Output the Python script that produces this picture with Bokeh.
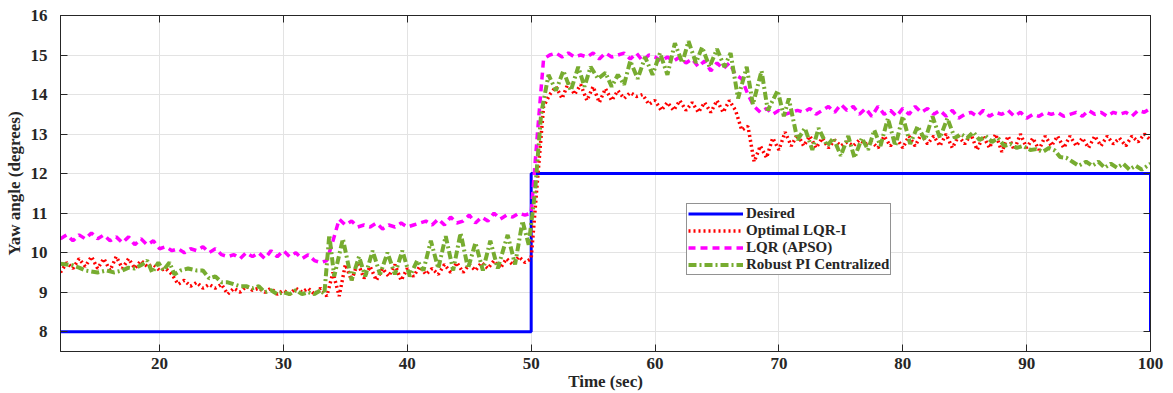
from bokeh.plotting import figure
from bokeh.models import (Legend, LegendItem, LinearAxis, SingleIntervalTicker,
                          Range1d)
from bokeh.embed import file_html
from bokeh.resources import INLINE

# ---------------- data ----------------
desired_t = [12, 50, 50, 100, 100]
desired_y = [8, 8, 12, 12, 8]

step_t0 = 12.0
step_dt = 0.5

optimal_lqr_i = [
    9.5, 9.75, 9.6, 9.85, 9.65, 9.9, 9.6, 9.85, 9.55, 9.9, 9.6, 9.85, 9.6, 9.8, 9.65, 9.7, 9.55, 9.6, 9.45, 9.2,
    9.3, 9.15, 9.25, 9.1, 9.2, 9.1, 9.2, 8.95, 9.1, 9.0, 9.15, 9.05, 9.1, 9.0, 9.1, 8.95, 9.05, 8.95, 9.1, 9.0,
    9.1, 8.95, 9.1, 8.9, 9.5, 8.9, 9.7, 9.3, 9.75, 9.35, 9.65, 9.3, 9.6, 9.4, 9.7, 9.3, 9.6, 9.4, 9.65, 9.45,
    9.6, 9.45, 9.7, 9.5, 9.75, 9.5, 9.7, 9.55, 9.75, 9.6, 9.8, 9.6, 9.85, 9.7, 9.9, 9.75, 9.85, 11.8, 13.7, 14.0,
    14.2, 13.9, 14.3, 14.0, 14.25, 13.85, 14.2, 13.8, 14.15, 13.85, 14.1, 13.9, 14.05, 13.95, 14.0, 13.75, 13.85, 13.6, 13.8, 13.6,
    13.85, 13.6, 13.8, 13.55, 13.8, 13.55, 13.85, 13.55, 13.85, 13.6, 13.1, 13.2, 12.3, 12.7, 12.4, 12.9, 12.6, 13.05, 12.7, 13.0,
    12.7, 12.95, 12.65, 12.9, 12.65, 12.85, 12.7, 12.8, 12.7, 12.85, 12.75, 12.8, 12.65, 12.95, 12.7, 12.9, 12.65, 12.95, 12.7, 13.0,
    12.75, 12.95, 12.7, 13.0, 12.65, 12.95, 12.75, 13.0, 12.6, 12.95, 12.65, 13.0, 12.55, 12.95, 12.6, 13.0, 12.65, 12.9, 12.6, 12.95,
    12.7, 12.95, 12.65, 12.95, 12.7, 12.9, 12.65, 12.95, 12.7, 12.95, 12.75, 12.9, 12.7, 12.95, 12.8, 13.0, 12.85,
]

lqr_apso = [
    10.35, 10.45, 10.3, 10.45, 10.35, 10.5, 10.35, 10.45, 10.3, 10.4, 10.25, 10.4, 10.2, 10.35, 10.2, 10.3, 10.1, 10.15, 10.05, 10.1,
    10.0, 10.1, 10.05, 10.15, 10.0, 10.1, 9.95, 9.9, 9.95, 9.85, 10.0, 9.9, 10.0, 9.85, 10.05, 9.9, 10.05, 9.9, 10.0, 9.85,
    9.95, 9.8, 9.75, 9.8, 10.3, 10.85, 10.7, 10.8, 10.65, 10.7, 10.65, 10.75, 10.6, 10.7, 10.65, 10.75, 10.65, 10.7, 10.75, 10.8,
    10.7, 10.85, 10.7, 10.9, 10.75, 10.8, 10.95, 10.75, 10.9, 10.8, 11.0, 10.85, 10.95, 10.9, 11.0, 10.95, 11.0, 13.0, 14.9, 15.0,
    15.05, 14.95, 15.05, 14.95, 15.0, 14.95, 15.05, 14.9, 15.05, 14.95, 15.0, 15.05, 14.9, 15.05, 14.85, 15.0, 14.95, 14.85, 14.95, 14.85,
    14.95, 14.8, 14.9, 14.7, 14.85, 14.6, 14.8, 14.65, 14.8, 14.5, 14.4, 14.0, 13.7, 13.55, 13.65, 13.5, 13.6, 13.5, 13.55, 13.6,
    13.55, 13.65, 13.5, 13.6, 13.7, 13.55, 13.75, 13.6, 13.7, 13.5, 13.65, 13.45, 13.7, 13.5, 13.6, 13.45, 13.65, 13.5, 13.7, 13.55,
    13.65, 13.5, 13.6, 13.45, 13.6, 13.4, 13.5, 13.55, 13.45, 13.6, 13.45, 13.55, 13.5, 13.6, 13.45, 13.55, 13.4, 13.5, 13.45, 13.55,
    13.5, 13.55, 13.45, 13.5, 13.55, 13.45, 13.6, 13.5, 13.55, 13.45, 13.55, 13.5, 13.55, 13.45, 13.6, 13.55, 13.65,
]

robust_pi_t = [
    12, 13, 13.5, 14, 15, 15.7, 16.3, 17, 17.5, 18, 18.6, 19, 19.4, 19.9, 20.3, 20.8, 21.2, 21.7, 22.3, 23,
    23.5, 24, 24.5, 25, 25.5, 26, 26.5, 27, 27.5, 28, 28.5, 29, 29.5, 30, 30.5, 31, 31.5, 32, 32.5, 33,
    33.3, 33.7, 34.1, 34.8, 35.5, 36.1, 36.6, 37.2, 37.8, 38.4, 39.0, 39.6, 40.2, 40.8, 41.3, 41.9, 42.5, 43.1, 43.7, 44.3,
    44.9, 45.5, 46.1, 46.7, 47.3, 48.1, 48.7, 49.3, 49.8, 50.3, 50.8, 51.4, 52.0, 52.6, 53.2, 53.8, 54.3, 54.8, 55.4, 56.0,
    56.5, 57.0, 57.5, 58.0, 58.6, 59.2, 59.8, 60.4, 61.0, 61.6, 62.2, 62.7, 63.3, 63.8, 64.4, 65.0, 65.6, 66.1, 66.7, 67.4,
    67.9, 68.6, 69.1, 69.9, 70.4, 70.8, 71.5, 72.1, 72.7, 73.2, 73.9, 74.4, 75.0, 75.6, 76.1, 76.7, 77.2, 77.7, 78.2, 78.8,
    79.4, 80.0, 80.6, 81.2, 81.8, 82.4, 83.0, 83.6, 84.2, 84.7, 85.2, 85.7, 86.2, 86.7, 87.2, 87.7, 88.2, 88.7, 89.2, 89.7,
    90.3, 90.8, 91.3, 91.8, 92.3, 92.7, 93.2, 93.7, 94.2, 94.8, 95.3, 95.8, 96.3, 96.8, 97.3, 97.8, 98.3, 98.8, 99.3, 100,
]
robust_pi_y = [
    9.72, 9.68, 9.62, 9.55, 9.5, 9.55, 9.5, 9.55, 9.62, 9.6, 9.7, 9.8, 9.5, 9.75, 9.55, 9.75, 9.45, 9.55, 9.6, 9.55,
    9.55, 9.35, 9.4, 9.25, 9.25, 9.2, 9.15, 9.15, 9.1, 9.15, 9.0, 9.05, 8.95, 9.0, 8.95, 9.05, 8.95, 9.0, 8.95, 9.05,
    8.95, 10.45, 9.4, 10.35, 9.3, 9.9, 9.4, 10.05, 9.45, 10.0, 9.45, 10.05, 9.4, 9.8, 9.55, 10.3, 9.6, 10.42, 9.55, 10.5,
    9.6, 10.25, 9.55, 10.3, 9.6, 10.45, 9.7, 10.8, 10.2, 11.5, 13.5, 14.5, 14.1, 14.6, 14.1, 14.7, 14.2, 14.7, 14.4, 14.55,
    14.2, 14.5, 14.25, 14.85, 14.4, 14.95, 14.5, 15.05, 14.5, 15.3, 14.8, 15.35, 14.8, 15.2, 14.7, 15.15, 14.7, 15.05, 13.9, 14.7,
    13.75, 14.6, 13.6, 14.1, 13.45, 13.9, 12.85, 13.15, 12.6, 13.15, 12.7, 12.9, 12.45, 12.95, 12.4, 12.9, 12.6, 13.1, 12.7, 13.4,
    12.7, 13.45, 12.75, 13.2, 12.85, 13.45, 12.9, 13.4, 12.9, 13.0, 12.9, 13.05, 12.85, 12.95, 12.8, 12.9, 12.7, 12.75, 12.65, 12.7,
    12.6, 12.62, 12.55, 12.65, 12.58, 12.42, 12.4, 12.3, 12.2, 12.3, 12.2, 12.3, 12.15, 12.25, 12.15, 12.25, 12.1, 12.2, 12.1, 12.25,
]

x_ticks_interval = 10
y_ticks_interval = 1

step_t = [step_t0 + i * step_dt for i in range(len(optimal_lqr_i))]
assert len(optimal_lqr_i) == len(lqr_apso) == 177
assert len(robust_pi_t) == len(robust_pi_y)

# ---------------- figure ----------------
FONT = "Liberation Serif"
AX = "#262626"

p = figure(width=1173, height=393, output_backend="svg", toolbar_location=None,
           x_range=Range1d(12, 100), y_range=Range1d(7.5, 16),
           min_border_left=60, min_border_right=23, min_border_top=15, min_border_bottom=42)
p.background_fill_color = "white"
p.border_fill_color = "white"
p.outline_line_color = AX
p.outline_line_width = 1

r_des = p.line(desired_t, desired_y, line_color="#0000ff", line_width=3)
r_opt = p.line(step_t, optimal_lqr_i, line_color="#ff0000", line_width=3.5, line_dash="2 3")
r_apso = p.line(step_t, lqr_apso, line_color="#ff00ff", line_width=3.5, line_dash="7 5")
r_pi = p.line(robust_pi_t, robust_pi_y, line_color="#77ac30", line_width=4, line_dash="8 3 2 3")

for ax in (p.xaxis[0], p.yaxis[0]):
    ax.axis_line_color = AX
    ax.major_tick_line_color = AX
    ax.major_tick_in = 7
    ax.major_tick_out = 0
    ax.minor_tick_line_color = None
    ax.major_label_text_font = FONT
    ax.major_label_text_font_style = "bold"
    ax.major_label_text_font_size = "17px"
    ax.major_label_text_color = AX
    ax.axis_label_text_font = FONT
    ax.axis_label_text_font_style = "bold"
    ax.axis_label_text_font_size = "17px"
    ax.axis_label_text_color = AX

p.xaxis[0].ticker = SingleIntervalTicker(interval=x_ticks_interval)
p.yaxis[0].ticker = SingleIntervalTicker(interval=y_ticks_interval)
p.xaxis[0].axis_label = "Time (sec)"
p.yaxis[0].axis_label = "Yaw angle (degrees)"
p.xaxis[0].major_label_standoff = 2
p.yaxis[0].major_label_standoff = 9
p.xaxis[0].axis_label_standoff = 0
p.yaxis[0].axis_label_standoff = 4

for loc, interval in (("right", y_ticks_interval), ("above", x_ticks_interval)):
    a = LinearAxis(ticker=SingleIntervalTicker(interval=interval))
    a.axis_line_color = AX
    a.major_tick_line_color = AX
    a.major_tick_in = 7
    a.major_tick_out = 0
    a.minor_tick_line_color = None
    a.major_label_text_font_size = "0px"
    a.major_label_text_color = None
    a.major_label_standoff = 0
    p.add_layout(a, loc)

p.xgrid.grid_line_color = "#e3e3e3"
p.ygrid.grid_line_color = "#e3e3e3"
p.xgrid.ticker = SingleIntervalTicker(interval=x_ticks_interval)
p.ygrid.ticker = SingleIntervalTicker(interval=y_ticks_interval)

legend = Legend(items=[
    LegendItem(label="Desired", renderers=[r_des]),
    LegendItem(label="Optimal LQR-I", renderers=[r_opt]),
    LegendItem(label="LQR (APSO)", renderers=[r_apso]),
    LegendItem(label="Robust PI Centralized", renderers=[r_pi]),
], location=(626, 76))
legend.label_text_font = FONT
legend.label_text_font_style = "bold"
legend.label_text_font_size = "15px"
legend.label_text_color = AX
legend.glyph_width = 55
legend.glyph_height = 13
legend.label_height = 13
legend.label_standoff = 3
legend.spacing = 0
legend.padding = 1
legend.margin = 0
legend.border_line_color = AX
legend.border_line_width = 1
legend.background_fill_color = "white"
legend.background_fill_alpha = 1
p.add_layout(legend)

open("out.html", "w").write(file_html(p, INLINE))
